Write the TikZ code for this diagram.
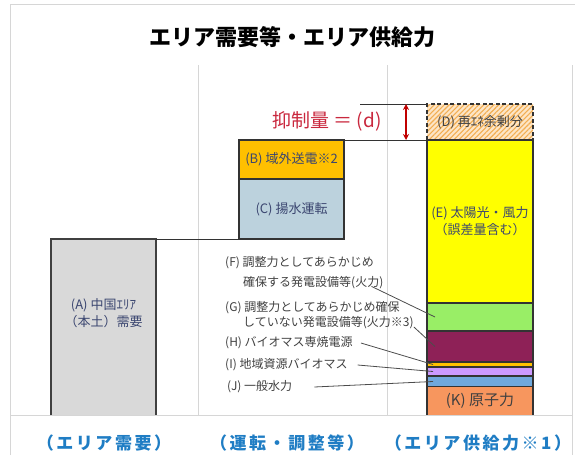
\documentclass[tikz,border=0pt]{standalone}
\usepackage{fontspec}
\setmainfont{Noto Sans CJK JP}
\newfontfamily\axisfont[LetterSpace=15]{Noto Sans CJK JP}
\usetikzlibrary{arrows.meta,patterns.meta}

\definecolor{frameGray}{HTML}{D6D6D6}
\definecolor{boxText}{HTML}{3B4670}
\definecolor{labelGray}{HTML}{404040}
\definecolor{axisBlue}{HTML}{1F7DC4}
\definecolor{cutRed}{HTML}{C9283E}
\definecolor{arrowRed}{HTML}{C00000}
\definecolor{colA}{HTML}{D9D9D9}
\definecolor{colB}{HTML}{FFC000}
\definecolor{colC}{HTML}{BCD2DD}
\definecolor{colDbg}{HTML}{FDE5C6}
\definecolor{colDhatch}{HTML}{F2AE52}
\definecolor{colE}{HTML}{FFFF00}
\definecolor{colF}{HTML}{99EE66}
\definecolor{colG}{HTML}{8E2157}
\definecolor{colH}{HTML}{FFC000}
\definecolor{colI}{HTML}{CC99FF}
\definecolor{colJ}{HTML}{6FA8DC}
\definecolor{colK}{HTML}{F7965E}

\tikzstyle{block} = [draw=black!80, line width=1.2pt, minimum width=106pt,
  inner sep=0pt, outer sep=0pt, text=boxText,
  font=\fontsize{13}{17}\selectfont, align=center]
\tikzstyle{openblock} = [block, draw=none]
\tikzstyle{surplus} = [block, preaction={fill=colDbg},
  pattern={Lines[angle=45,distance=3.5pt,line width=1.1pt]},
  pattern color=colDhatch, dash pattern=on 4pt off 2.5pt, text=labelGray]
\tikzstyle{lbl} = [anchor=west, inner sep=0pt, text=labelGray,
  font=\fontsize{12}{15}\selectfont, align=left]
\tikzstyle{leader} = [draw, line width=0.8pt, color=black!70]
\tikzstyle{line} = [draw, line width=0.9pt, color=black!80]
\tikzstyle{edge} = [draw, line width=1.6pt, color=black!75]
\tikzstyle{side} = [draw, line width=1.2pt, color=black!80]
\tikzstyle{frame} = [draw, line width=1pt, color=frameGray]
\tikzstyle{axis} = [text=axisBlue, font=\axisfont\bfseries\fontsize{17}{20}\selectfont]
\tikzset{
    cut arrow/.style={draw, line width=2pt, color=arrowRed,
        arrows={Stealth[length=6pt,width=6pt]-Stealth[length=6pt,width=6pt]}}}

\newcommand{\blok}[3]{node (b#1) [#2] {#3}}
\newcommand{\srcnote}[2]{node (t#1) [lbl] {#2}}

\begin{document}
\begin{tikzpicture}[x=1pt,y=-1pt]
\useasboundingbox (0,0) rectangle (575,455);
% Frame and column dividers
\path[frame] (10,455) -- (10,4) -- (575,4);
\path[frame] (572,65) -- (572,455);
\path[frame] (10,415) -- (572,415);
\path[frame] (198,65) -- (198,415);
\path[frame] (387,65) -- (387,415);

\node (title) at (292,37) {\bfseries\fontsize{22}{24}\selectfont エリア需要等・エリア供給力};

% Draw diagram elements
\path (103.5,327) \blok{A}{openblock, fill=colA, minimum width=105pt, minimum height=176pt}{};
\node (tA) [text=boxText, font=\fontsize{13}{17}\selectfont, align=center]
  at (103.5,313) {(A) 中国ｴﾘｱ\\（本土）需要};

\path (291.5,159.5) \blok{B}{block, fill=colB, minimum width=105pt, minimum height=39pt}{(B) 域外送電※2};
\path (bB.south) +(0,30) \blok{C}{block, fill=colC, minimum width=105pt, minimum height=60pt}{(C) 揚水運転};

\path (480,122) \blok{D}{surplus, minimum height=36pt}{(D) 再ｴﾈ余剰分};
\path (bD.south) +(0,81.5) \blok{E}{block, fill=colE, minimum height=163pt}{(E) 太陽光・風力\\（誤差量含む）};
\path (bE.south) +(0,14) \blok{F}{block, fill=colF, minimum height=28pt}{};
\path (bF.south) +(0,15.5) \blok{G}{block, fill=colG, minimum height=31pt}{};
\path (bG.south) +(0,2.5) \blok{H}{block, fill=colH, minimum height=5pt}{};
\path (bH.south) +(0,4.5) \blok{I}{block, fill=colI, minimum height=9pt}{};
\path (bI.south) +(0,5.5) \blok{J}{block, fill=colJ, minimum height=11pt}{};
\path (bJ.south) +(0,14) \blok{K}{openblock, fill=colK, minimum height=28pt,
  text=labelGray, font=\fontsize{15}{17}\selectfont}{(K) 原子力};

\path (225,273) \srcnote{F}{(F) 調整力としてあらかじめ\\[5pt]\hspace*{1.5em}確保する発電設備等(火力)};
\path (225,315) \srcnote{G}{(G) 調整力としてあらかじめ確保\\\hspace*{1.5em}していない発電設備等(火力※3)};
\path (225,343) \srcnote{H}{(H) バイオマス専焼電源};
\path (225,365) \srcnote{I}{(I) 地域資源バイオマス};
\path (227,387) \srcnote{J}{(J) 一般水力};

\node (cutLabel) [text=cutRed, font=\fontsize{19}{22}\selectfont] at (327,121) {抑制量 ＝ (d)};
\coordinate (cutTop) at (360,104);
\coordinate (dHigh) at (406,104);
\coordinate (dLow) at (406,140);

\node (axDemand) [axis] at (104,443) {（エリア需要）};
\node (axOps) [axis] at (287,443) {（運転・調整等）};
\node (axSupply) [axis] at (478,443) {（エリア供給力※1）};

% Draw lines between elements
\path [edge] (bA.south west) -- (bA.north west) -- (bA.north east) -- (bA.south east);
\path [side] (bK.north west) -- (bK.south west);
\path [side] (bK.north east) -- (bK.south east);
\path [line] (bA.north east) -- (bC.south west);
\path [line] (bB.north east) -- (bE.north west);
\path [line] (cutTop) -- (bD.north west);
\path [cut arrow] (dHigh) -- (dLow);

\path [leader] ([xshift=-12pt,yshift=3pt]tF.south east) -- ([xshift=8pt]bF.west);
\path [leader] ([yshift=2pt]tG.south east) -- ([xshift=8pt]bG.west);
\path [leader] ([xshift=8pt]tH.east) -- ([xshift=6pt]bH.west);
\path [leader] ([xshift=10pt]tI.east) -- ([xshift=6pt]bI.west);
\path [leader] ([xshift=22pt]tJ.east) -- ([xshift=6pt]bJ.west);
\end{tikzpicture}
\end{document}
